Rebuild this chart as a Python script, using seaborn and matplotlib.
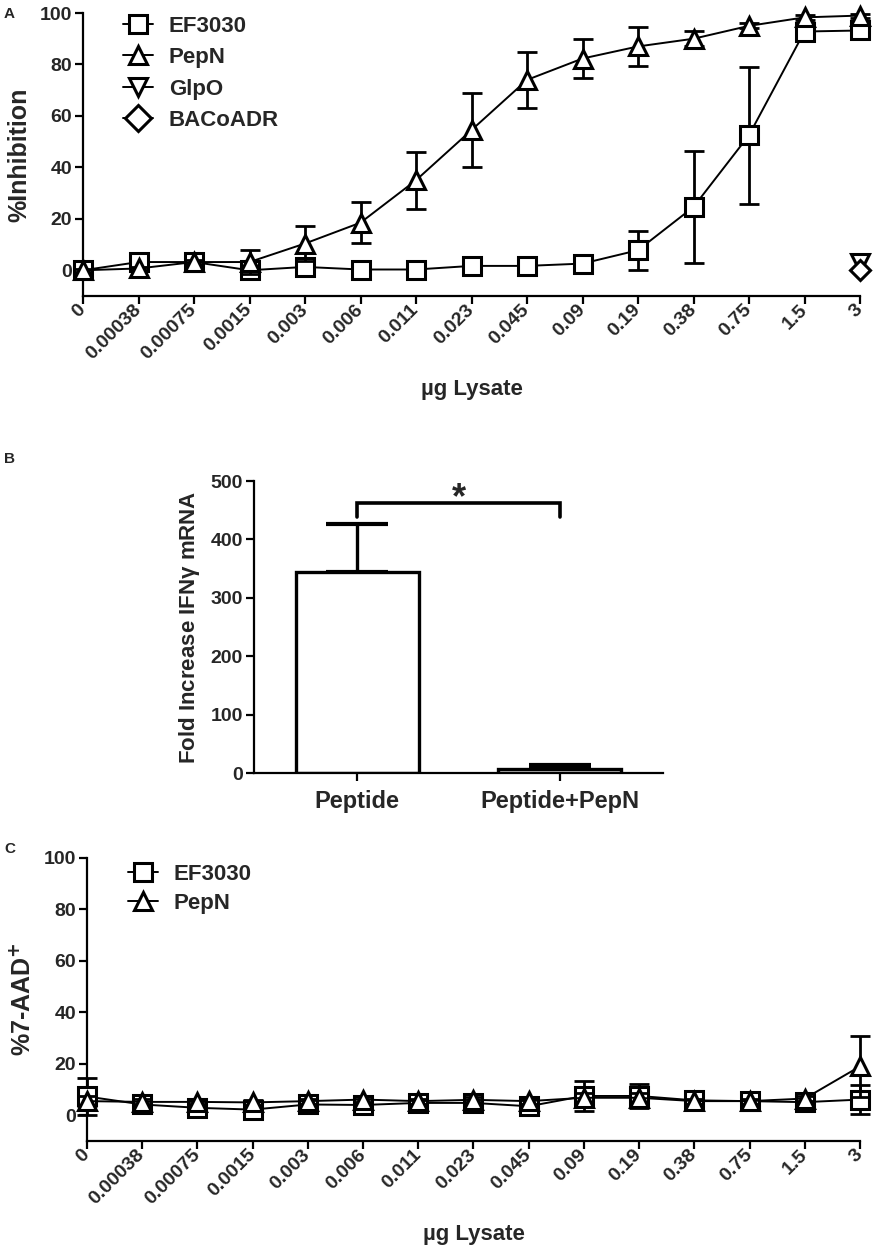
import numpy as np
import pandas as pd
import matplotlib
matplotlib.use("Agg")
import matplotlib.pyplot as plt
import seaborn as sns
from matplotlib.lines import Line2D

# ---------------- data ----------------
doses = ["0", "0.00038", "0.00075", "0.0015", "0.003", "0.006", "0.011", "0.023",
         "0.045", "0.09", "0.19", "0.38", "0.75", "1.5", "3"]

# Panel A: %Inhibition
ef_a = [0.0, 3.2, 3.2, 0.0, 1.3, 0.3, 0.3, 1.7, 1.7, 2.6, 7.8, 24.6, 52.5, 92.8, 93.2]
ef_a_err = [0.5, 0.8, 0.8, 0.8, 0.8, 0.5, 0.5, 0.5, 0.5, 0.8, 7.6, 21.8, 26.7, 1.5, 1.0]
pep_a = [0.0, 0.7, 3.2, 3.2, 10.4, 18.5, 35.0, 54.5, 74.0, 82.3, 87.0, 90.0, 95.0, 98.3, 99.0]
pep_a_err = [0.5, 0.5, 0.8, 4.6, 6.8, 8.0, 11.0, 14.5, 11.0, 7.5, 7.5, 3.0, 1.0, 1.0, 0.8]
glpo_dose = ["3"]
glpo_a = [2.8]
bacoadr_dose = ["3"]
bacoadr_a = [0.0]

# Panel B: fold increase IFNγ mRNA
bar_groups = ["Peptide", "Peptide+PepN"]
bar_vals = [344.0, 7.0]
bar_err = [82.0, 7.0]

# Panel C: %7-AAD+
ef_c = [7.3, 4.2, 2.9, 2.2, 4.2, 4.0, 4.8, 4.8, 3.5, 7.5, 7.5, 5.8, 5.5, 5.1, 6.1]
ef_c_err = [7.0, 1.0, 1.0, 1.0, 1.0, 1.0, 1.0, 1.0, 1.0, 5.8, 4.5, 1.0, 1.0, 1.5, 5.5]
pep_c = [5.5, 5.2, 5.2, 5.0, 5.5, 6.1, 5.5, 6.0, 5.5, 6.8, 6.8, 5.5, 5.5, 6.5, 19.0]
pep_c_err = [2.0, 1.0, 1.0, 1.0, 1.0, 1.0, 1.0, 1.0, 1.0, 2.0, 2.0, 1.0, 1.0, 1.0, 12.0]

# ---------------- style ----------------
sns.set_theme(style="ticks")
plt.rcParams['font.family'] = ['Liberation Sans', 'DejaVu Sans']
plt.rcParams['font.weight'] = 'bold'
plt.rcParams['axes.labelweight'] = 'bold'
plt.rcParams['mathtext.default'] = 'bf'

W, H = 876, 1249
fig = plt.figure(figsize=(W / 100, H / 100), dpi=100)


def frac_rect(left, top, right, bottom):
    return [left / W, 1 - bottom / H, (right - left) / W, (bottom - top) / H]


MS = 13
MEW = 2.2
LW = 1.4
ELW = 2.0
CAP = 7

mstyle = dict(color="black", linewidth=LW, markersize=MS, markerfacecolor="white",
              markeredgecolor="black", markeredgewidth=MEW, clip_on=False)


def style_axes(ax):
    sns.despine(ax=ax)
    for s in ("left", "bottom"):
        ax.spines[s].set_linewidth(1.6)
        ax.spines[s].set_color("black")
    ax.tick_params(axis="both", direction="out", length=6, width=1.6, color="black",
                   labelsize=14, pad=2)
    for lab in ax.get_yticklabels():
        lab.set_fontweight("bold")
    ax.set_facecolor("white")


def dose_plot(ax, series, ylabel, legend_anchor, spacing):
    pos = np.arange(len(doses))
    handles = []
    for name, vals, errs, marker, z in series:
        x = [doses.index(d) for d in vals[0]] if isinstance(vals, tuple) else pos
        y = vals[1] if isinstance(vals, tuple) else vals
        df = pd.DataFrame({"x": x, "y": y})
        if errs is not None:
            ax.errorbar(df["x"], df["y"], yerr=errs, fmt="none", ecolor="black",
                        elinewidth=ELW, capsize=CAP, capthick=ELW, zorder=z - 0.5,
                        clip_on=False)
        sns.lineplot(data=df, x="x", y="y", ax=ax, marker=marker, zorder=z,
                     estimator=None, sort=False, **mstyle)
        handles.append(Line2D([0], [0], marker=marker, label=name,
                              **{k: v for k, v in mstyle.items() if k != "clip_on"}))
    ax.set_xlim(0, len(doses) - 1)
    ax.set_ylim(-10, 100)
    ax.set_yticks(range(0, 101, 20))
    ax.set_xticks(pos)
    ax.set_xticklabels(doses, rotation=45, ha="right", va="center",
                       rotation_mode="anchor", fontsize=13, fontweight="bold")
    ax.tick_params(axis="x", pad=10)
    ax.set_xlabel("µg Lysate", fontsize=16, fontweight="bold", labelpad=12)
    ax.set_ylabel(ylabel, fontsize=18, fontweight="bold", labelpad=6)
    style_axes(ax)
    leg = ax.legend(handles=handles, loc="upper left", bbox_to_anchor=legend_anchor,
                    frameon=False, fontsize=16, handlelength=1.35, handletextpad=0.7,
                    labelspacing=spacing, borderpad=0, borderaxespad=0)
    for t in leg.get_texts():
        t.set_fontweight("bold")


# ---------------- Panel A ----------------
axA = fig.add_axes(frac_rect(83, 13, 860, 296))
dose_plot(axA, [
    ("EF3030", ef_a, ef_a_err, "s", 3),
    ("PepN", pep_a, pep_a_err, "^", 4),
    ("GlpO", (glpo_dose, glpo_a), None, "v", 5),
    ("BACoADR", (bacoadr_dose, bacoadr_a), None, "D", 6),
], "%Inhibition", (0.052, 0.99), 0.47)
for line in axA.get_lines():
    if line.get_marker() == "D":
        line.set_markersize(10)

# ---------------- Panel B ----------------
axB = fig.add_axes(frac_rect(254, 481, 663, 773))
dfB = pd.DataFrame({"group": bar_groups, "value": bar_vals})
sns.barplot(data=dfB, x="group", y="value", ax=axB, color="white", edgecolor="black",
            linewidth=2.4, width=0.61, errorbar=None, saturation=1)
for p in axB.patches:
    p.set_facecolor("white")
    p.set_edgecolor("black")
bx = np.arange(len(bar_groups))
axB.errorbar(bx, bar_vals, yerr=[np.zeros(len(bar_err)), bar_err], fmt="none",
             ecolor="black", elinewidth=2.4, capsize=22, capthick=3.0, zorder=0.5)
axB.set_xlim(-0.51, 1.51)
axB.set_ylim(0, 500)
axB.set_yticks(range(0, 501, 100))
style_axes(axB)
axB.set_xlabel("")
axB.set_ylabel("Fold Increase IFN$\\mathregular{\\gamma}$ mRNA", fontsize=16,
               fontweight="bold", labelpad=6)
axB.set_xticks(bx)
axB.set_xticklabels(bar_groups, fontsize=17, fontweight="bold")
axB.tick_params(axis="x", pad=6)
# significance bracket
top = max(v + e for v, e in zip(bar_vals, bar_err))
yb = top + 36
axB.plot([0, 0, 1, 1], [yb - 24, yb, yb, yb - 24], color="black", lw=2.6,
         solid_joinstyle="miter", clip_on=False)
axB.text(0.5, yb - 22, "*", ha="center", va="bottom", fontsize=26, fontweight="bold")

# ---------------- Panel C ----------------
axC = fig.add_axes(frac_rect(87, 858, 860, 1141))
dose_plot(axC, [
    ("EF3030", ef_c, ef_c_err, "s", 3),
    ("PepN", pep_c, pep_c_err, "^", 4),
], "%7-AAD$^{+}$", (0.053, 0.98), 0.38)

# panel letters
fig.text(4 / W, 1 - 7 / H, "A", fontsize=11, fontweight="bold", va="top", ha="left")
fig.text(4 / W, 1 - 452 / H, "B", fontsize=11, fontweight="bold", va="top", ha="left")
fig.text(4 / W, 1 - 842 / H, "C", fontsize=11, fontweight="bold", va="top", ha="left")

fig.savefig("out.png", dpi=100, facecolor="white")
